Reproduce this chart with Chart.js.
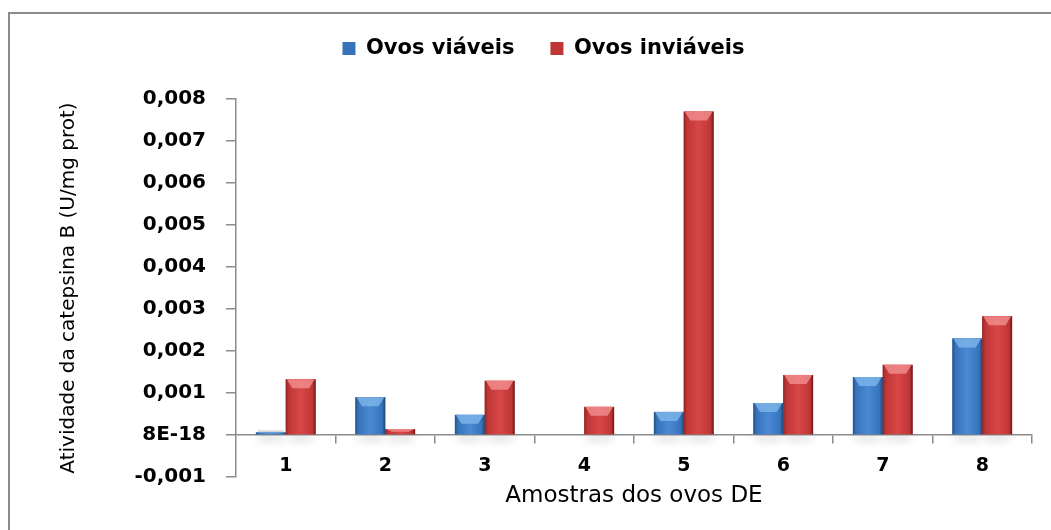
<!DOCTYPE html>
<html>
<head>
<meta charset="utf-8">
<script src="https://cdn.jsdelivr.net/npm/chart.js@4"></script>
<style>
  html, body { margin: 0; padding: 0; background: #fff; overflow: hidden; }
  #wrap { position: relative; width: 1051px; height: 530px; }
  #frame { position: absolute; left: 8px; top: 12px; width: 1100px; height: 600px; border: 2px solid #8c8c8c; }
  canvas { position: absolute; left: 0; top: 0; }
</style>
</head>
<body>
<div id="wrap">
  <div id="frame"></div>
  <canvas id="myChart" width="1051" height="530"></canvas>
</div>
<script>
const categories = ['1', '2', '3', '4', '5', '6', '7', '8'];
const ovosViaveis = [0.00006, 0.0009, 0.00048, 0, 0.00055, 0.00076, 0.00138, 0.0023];
const ovosInviaveis = [0.00133, 0.00014, 0.00129, 0.00067, 0.0077, 0.00143, 0.00167, 0.00283];
const yTickLabels = ['-0,001', '8E-18', '0,001', '0,002', '0,003', '0,004', '0,005', '0,006', '0,007', '0,008'];

// cores das barras (borda escura, meio, centro claro, topo)
const shades = [
    { edge: '#234f86', mid: '#3673bb', light: '#4a8ad4', dark: '#1d426f', top: '#7fb6ea' },
    { edge: '#8f2424', mid: '#bf3636', light: '#d84747', dark: '#6a1717', top: '#f29090' }
];

const barShine = {
    id: 'barShine',
    afterInit(chart){
        // altura fixa da legenda para posicionar a área do gráfico
        const fit = chart.legend.fit;
        chart.legend.fit = function(){
            fit.apply(this, arguments);
            this.height = 97;
        };
    },
    beforeDatasetsDraw(chart){
        const ctx = chart.ctx;
        ctx.save();
        chart.data.datasets.forEach((ds, i) => {
            chart.getDatasetMeta(i).data.forEach(bar => {
                if(bar.base - bar.y < 0.5) return;
                const left = bar.x - bar.width / 2;
                ctx.shadowColor = 'rgba(0,0,0,0.55)';
                ctx.shadowBlur = 8;
                ctx.shadowOffsetY = 6;
                ctx.fillStyle = 'rgba(150,150,150,0.35)';
                ctx.fillRect(left + 2, bar.base - 4, bar.width - 4, 4);
            });
        });
        ctx.restore();
    },
    afterDatasetsDraw(chart){
        const ctx = chart.ctx;
        ctx.save();
        chart.data.datasets.forEach((ds, i) => {
            const c = shades[i];
            chart.getDatasetMeta(i).data.forEach(bar => {
                const h = bar.base - bar.y;
                if(h <= 0) return;
                const left = bar.x - bar.width / 2;
                const w = bar.width;
                const g = ctx.createLinearGradient(left, 0, left + w, 0);
                g.addColorStop(0, c.edge);
                g.addColorStop(0.1, c.mid);
                g.addColorStop(0.5, c.light);
                g.addColorStop(0.9, c.mid);
                g.addColorStop(1, c.dark);
                ctx.fillStyle = g;
                ctx.fillRect(left, bar.y, w, h);
                // brilho no topo
                const b = Math.min(9, h * 0.5);
                ctx.fillStyle = c.top;
                ctx.globalAlpha = 0.8;
                ctx.beginPath();
                ctx.moveTo(left + 1, bar.y);
                ctx.lineTo(left + w - 1, bar.y);
                ctx.lineTo(left + w * 0.78, bar.y + b);
                ctx.lineTo(left + w * 0.22, bar.y + b);
                ctx.closePath();
                ctx.fill();
                ctx.globalAlpha = 1;
            });
        });
        ctx.restore();
    }
};

Chart.defaults.font.family = 'DejaVu Sans';
Chart.defaults.color = '#000';

new Chart(document.getElementById('myChart').getContext('2d'), {
    type: 'bar',
    data: {
        labels: categories,
        datasets: [
            { label: 'Ovos viáveis', data: ovosViaveis, backgroundColor: '#3673bb' },
            { label: 'Ovos inviáveis', data: ovosInviaveis, backgroundColor: '#bf3636' }
        ]
    },
    plugins: [barShine],
    options: {
        responsive: false,
        animation: false,
        layout: { padding: { top: 2, left: 55, right: 19, bottom: 53 } },
        datasets: { bar: { categoryPercentage: 0.6, barPercentage: 1.0 } },
        plugins: {
            tooltip: { enabled: false },
            legend: {
                position: 'top',
                labels: { boxWidth: 13, boxHeight: 13, padding: 36, font: { size: 21, weight: 'bold' } }
            }
        },
        scales: {
            x: {
                position: { y: 0 },
                afterFit: (scale) => { scale.height = 53; },
                grid: {
                    drawOnChartArea: false,
                    tickLength: 8,
                    lineWidth: 1.5,
                    color: (c) => (c.index === 0 || c.index >= categories.length ? 'rgba(0,0,0,0)' : '#8c8c8c')
                },
                border: { color: '#8c8c8c', width: 1.5 },
                ticks: { padding: 12, font: { size: 19, weight: 'bold' } },
                title: { display: true, text: 'Amostras dos ovos DE', font: { size: 23 }, padding: { top: 0, bottom: -22 } }
            },
            y: {
                min: -0.001,
                max: 0.008,
                afterFit: (scale) => { scale.width = 181; },
                grid: { drawOnChartArea: false, tickLength: 10, color: '#8c8c8c', lineWidth: 1.5 },
                border: { color: '#8c8c8c', width: 1.5 },
                ticks: {
                    stepSize: 0.001,
                    padding: 20,
                    font: { size: 20, weight: 'bold' },
                    callback: (value, index) => yTickLabels[index]
                },
                title: { display: true, text: 'Atividade da catepsina B (U/mg prot)', font: { size: 20 }, padding: { top: 2, bottom: 0 } }
            }
        }
    }
});
</script>
</body>
</html>
